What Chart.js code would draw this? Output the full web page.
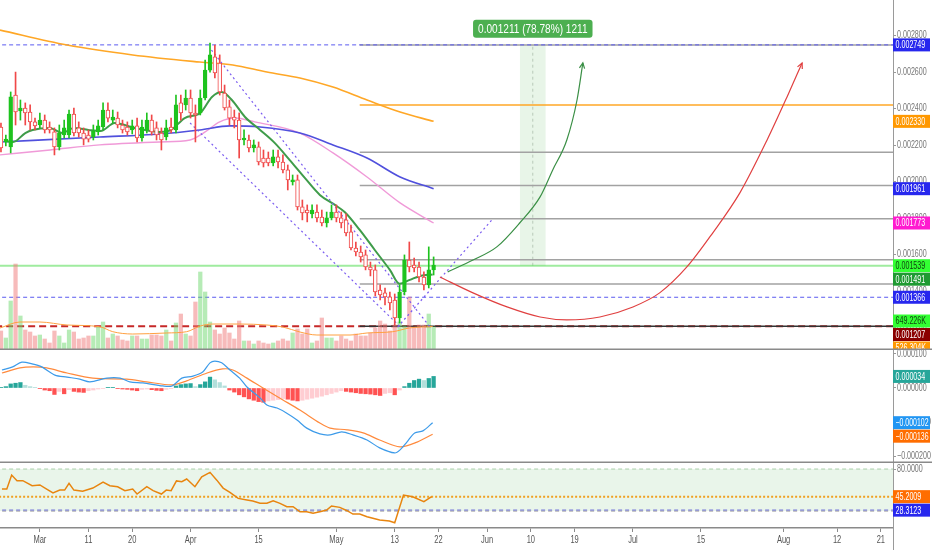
<!DOCTYPE html>
<html><head><meta charset="utf-8">
<script src="https://cdn.jsdelivr.net/npm/chart.js@4.4.0/dist/chart.umd.min.js"></script>
<style>
html,body{margin:0;padding:0;background:#fff;width:932px;height:550px;overflow:hidden}
.p{position:absolute;left:0;width:932px}
#w1{top:0;height:350px}#w2{top:350px;height:113px}#w3{top:463px;height:87px}
canvas{display:block}
</style></head><body>
<div class="p" id="w1"><canvas id="c1" width="932" height="350"></canvas></div>
<div class="p" id="w2"><canvas id="c2" width="932" height="113"></canvas></div>
<div class="p" id="w3"><canvas id="c3" width="932" height="87"></canvas></div>
<script>
// ---------- DATA (prices in millionths, volume in K) ----------
const candleDays = [-8,-7,-6,-5,-4,-3,-2,-1,0,1,2,3,4,5,6,7,8,9,10,11,12,13,14,15,16,17,18,19,20,21,22,23,24,25,26,27,28,29,30,31,32,33,34,35,36,37,38,39,40,41,42,43,44,45,46,47,48,49,50,51,52,53,54,55,56,57,58,59,60,61,62,63,64,65,66,67,68,69,70,71,72,73,74,75,76,77,78,79,80,81];
const openP = [2299,2217,2190,2474,2387,2403,2381,2327,2310,2337,2299,2272,2190,2255,2255,2370,2294,2266,2255,2244,2272,2299,2392,2337,2348,2310,2299,2283,2305,2239,2283,2337,2294,2266,2244,2299,2283,2431,2420,2458,2376,2376,2458,2611,2683,2650,2485,2409,2354,2337,2228,2228,2184,2190,2129,2129,2102,2135,2107,2064,1998,2009,1861,1844,1823,1833,1806,1773,1801,1833,1801,1790,1724,1636,1614,1598,1532,1516,1406,1390,1368,1351,1253,1395,1570,1543,1532,1477,1434,1516];
const highP = [2321,2255,2491,2600,2447,2431,2420,2348,2376,2365,2327,2294,2310,2337,2392,2403,2327,2294,2283,2310,2337,2431,2431,2392,2381,2337,2327,2337,2348,2337,2376,2365,2327,2294,2337,2348,2474,2474,2502,2502,2420,2502,2666,2759,2748,2694,2529,2447,2392,2376,2283,2255,2228,2217,2173,2162,2173,2173,2146,2091,2036,2036,1899,1872,1872,1872,1844,1833,1872,1872,1833,1823,1762,1669,1647,1625,1559,1543,1434,1417,1395,1384,1434,1598,1669,1581,1559,1505,1642,1587];
const lowP = [2162,2195,2157,2310,2337,2310,2283,2283,2294,2266,2266,2146,2173,2239,2239,2250,2244,2201,2217,2228,2255,2283,2327,2321,2294,2266,2255,2261,2217,2222,2266,2255,2228,2173,2228,2266,2266,2337,2392,2348,2217,2365,2447,2600,2568,2474,2392,2310,2294,2129,2201,2162,2162,2091,2080,2086,2086,2075,2047,1954,1981,1844,1790,1779,1801,1779,1757,1751,1790,1779,1746,1702,1625,1592,1559,1516,1483,1373,1351,1324,1297,1214,1225,1379,1505,1505,1450,1406,1417,1488];
const closeP = [2184,2233,2464,2381,2403,2376,2327,2305,2337,2283,2283,2190,2266,2294,2370,2266,2266,2233,2233,2277,2305,2392,2348,2354,2310,2283,2272,2305,2239,2299,2337,2272,2255,2228,2294,2283,2420,2376,2458,2376,2365,2458,2611,2694,2595,2491,2403,2348,2337,2228,2239,2184,2201,2107,2102,2102,2135,2107,2064,2009,2009,1861,1828,1828,1844,1801,1773,1801,1833,1801,1773,1718,1636,1614,1587,1532,1516,1395,1379,1368,1335,1253,1395,1570,1532,1527,1477,1434,1516,1543];
const volumeK = [426,269,1098,1926,762,448,403,314,336,246,157,426,314,157,448,403,246,269,314,314,515,627,269,358,314,224,202,314,314,246,246,336,336,314,448,202,605,806,358,314,1075,1747,1299,627,448,358,493,381,246,650,202,202,134,202,157,134,157,202,246,202,381,470,358,470,157,202,717,269,269,202,314,246,202,358,314,314,381,493,650,582,426,560,627,538,1187,515,560,560,806,515];
const volMaDays = [-8.2,-4.1,0,5.6,12.3,15,19.1,26,30.2,33,35.6,41.1,46.7,50,53.5,57,63.8,67.3,72.6,76,80.8];
const volMaVals = [493,627,627,560,522,410,358,381,410,538,582,582,560,515,403,336,336,381,410,493,526];

const emaDays = [-7,-5.5,-3,-1.5,2,4.6,7,10,12.5,15.4,19.5,24.7,27,29.8,33,35.4,37.4,39.5,42.2,45.3,48.3,51.4,54.5,57.6,60.7,62.7,65.8,68.9,72,74,76.1,78.2,80.8];
const emaVals = [2222,2217,2266,2283,2294,2266,2294,2283,2277,2321,2294,2272,2283,2348,2376,2464,2491,2447,2354,2283,2212,2118,2020,1927,1872,1833,1735,1625,1516,1440,1461,1483,1491];
const pinkDays = [-8.2,2.1,12.3,24.7,30.9,34,37,40.1,44.2,53.5,60.3,67.3,74.1,81];
const pinkVals = [2146,2173,2201,2217,2228,2272,2327,2348,2327,2266,2157,2025,1883,1773];
const blueDays = [-8.2,12.3,24.7,32.9,39.1,45.3,53.5,60.3,67.3,74.1,81];
const blueVals = [2217,2244,2261,2283,2305,2299,2266,2201,2129,2025,1961];
const orangeDays = [-8.2,5.6,19.1,32.9,39.7,46.7,53.5,60.3,67.3,74.1,81];
const orangeVals = [2830,2748,2694,2655,2639,2600,2568,2518,2447,2381,2330];

const fibLevels = [2749,2160,1978,1796,1571,1439];
const fibOrangeLevel = 2419;
const supportLevel = 1207;
const fibStartDay = 65.8;
const highLevel = 2749, priceLevel = 1539, midLevel = 1366;

const chanADays = [35.3,80.2], chanAVals = [2721,1205];
const chanBDays = [30.9,74.1], chanBVals = [2321,1205];
const chanCDays = [73.6,93], chanCVals = [1203,1790];
const greenArrowDays = [83.9,89.1,94,98.7,102.9,105.5,108.4,110.5,111.7];
const greenArrowVals = [1505,1570,1642,1773,1916,2064,2228,2447,2650];
const redArrowDays = [82.3,89.1,96.1,102.9,108.4,115.2,122,127.5,133.1,138.4,144,149.6,153.7,156.8];
const redArrowVals = [1477,1390,1313,1258,1242,1258,1313,1390,1532,1718,1938,2228,2464,2650];
const bandDay = 101.4, bandLow = 1539, bandHigh = 2750;
const measureText = '0.001211 (78.78%) 1211';

const macdHist = [2,4,12,14,16,8,4,1,-2,-6,-8,-19,-10,-17,-5,-10,-12,-13,-8,-6,-3,-1,1,2,-1,-3,-4,-6,-8,-4,-3,-5,-7,-8,-4,-2,6,10,12,13,4,10,18,32,24,16,6,-6,-12,-20,-26,-32,-36,-40,-42,-38,-36,-34,-31,-33,-36,-38,-36,-33,-30,-27,-24,-20,-16,-12,-8,-10,-12,-14,-16,-17,-18,-20,-22,-16,-14,-20,-6,4,14,22,26,22,28,34];
const macdDays = [-7.8,-5.6,-3.7,-1.6,0.4,3.1,5.6,8.2,10.3,13.8,16.5,18.5,21.2,25.3,27.2,29.2,31.5,33.5,35,36,37.4,39.1,41.1,42.6,45.3,46.7,48.8,50.8,52.9,54.9,57.6,59.7,62.1,64.4,67.3,69.9,73,74.1,75.5,77.1,78.8,80.8];
const macdVals = [53,62,76,71,62,38,32,26,18,29,29,18,15,6,6,29,35,47,74,79,74,53,29,3,-29,-50,-59,-74,-94,-118,-135,-138,-129,-138,-153,-176,-191,-182,-159,-132,-126,-102];
const signalDays = [-7.8,-4.1,-1.4,1.4,5.6,10.9,17.9,22,27.2,30.2,34.4,37.6,39.7,42.6,45.9,50,53.5,57.6,59.7,63.2,66.5,69.9,74.1,77.6,80.8];
const signalVals = [44,59,62,59,44,29,26,18,9,21,44,56,53,29,0,-35,-65,-103,-118,-123,-132,-153,-173,-159,-136];

const rsiDays = [-7.8,-6.8,-5.8,-4.7,-3.5,-1.6,0,1.4,2.7,4.1,5.1,6,7,8.8,10.9,13,14.4,16,17.5,19.1,20,22,23.3,25,26,27,28.1,29.2,30.2,31.9,33.3,35,36.4,37.7,39.1,40.8,42.6,43.8,45.3,46.7,48,49.4,50.8,52.1,53.5,54.9,56.2,57.6,59,60,61.7,63.2,64.4,65.8,67.3,68.5,69.9,71.9,73,74.8,76.7,79,80.6];
const rsiVals = [54.8,54.8,72.4,65.3,65.3,59,60,54.8,49.8,53.5,53.5,62,53.5,52,56,63.6,59,57.7,52.7,54.8,48.5,57.7,52.7,48.5,53.5,52.7,65,64,67.4,57.7,70.3,75.8,66,56,50.6,43,41,39.7,36.8,36.8,40,36.8,32.5,32.5,26.2,26.2,24.2,26.2,28.3,33.4,31.7,27.5,23.3,23.3,19.9,17.9,15.7,14.4,12.3,47.2,45.1,38.8,45.2];
const rsiBandTop = 80, rsiBandBottom = 27, rsiLevelA = 45.2009, rsiLevelB = 28.3123;

const tickDays = [0,10,19,31,45,61,73,82,92,101,110,122,136,153,164,173];
const tickLabels = ['Mar','11','20','Apr','15','May','13','22','Jun','10','19','Jul','15','Aug','12','21'];
const priceTicks = [1200,1400,1600,1800,2000,2200,2400,2600,2800];
const macdTicks = [100,0,-100,-200];
const rsiTicks = [80];

const mainTags = [['y',2749,'0.002749','#2727ee','#fff'],['y',2330,'0.002330','#ff9800','#fff'],['y',1961,'0.001961','#2727ee','#fff'],['y',1773,'0.001773','#ff1ad0','#fff'],['y',1539,'0.001539','#33ff33','#114411'],['y',1491,'0.001491','#1f9a32','#fff'],['y',1366,'0.001366','#2727ee','#fff'],['yv',649.226,'649.226K','#33ff33','#114411'],['y',1207,'0.001207','#8b0000','#fff'],['yv',526.304,'526.304K','#ff9800','#fff']];
const macdTags = [['y',34,'0.000034','#26a69a','#fff'],['y',-102,'\u22120.000102','#2196f3','#fff'],['y',-136,'\u22120.000136','#ff6d00','#fff']];
const rsiTags = [['y',45.2009,'45.2009','#ff6d00','#fff'],['y',28.3123,'28.3123','#2727ee','#fff']];

// ---------- STYLE / HELPERS ----------
const FONT = "'Liberation Sans','DejaVu Sans',sans-serif";
Chart.defaults.font.family = FONT;
Chart.defaults.animation = false;
const X_MIN = -8.2, X_MAX = 175.5, AXW = 39, SX = 0.68;
const C_UP = '#1ec31e', C_DN = '#f04848';
const pts = (d, v) => d.map((x, i) => ({x, y: v[i]}));

function narrowText(ctx, text, x, y, sx, align) {
  ctx.save(); ctx.translate(x, y); ctx.scale(sx, 1); ctx.textAlign = align || 'left'; ctx.fillText(text, 0, 0); ctx.restore();
}
function lineDs(data, color, width, order, extra) {
  return Object.assign({type:'line', data, borderColor:color, borderWidth:width, pointRadius:0, fill:false, order, yAxisID:'y', cubicInterpolationMode:'monotone'}, extra || {});
}
function hline(level, x0, color, width, dash, order) {
  return lineDs([{x:x0,y:level},{x:X_MAX+1,y:level}], color, width, order, {borderDash:dash||[]});
}
function xAxis(show) {
  return {type:'linear', min:X_MIN, max:X_MAX, offset:false, display:show,
    grid:{display:true, offset:false, drawOnChartArea:false, drawTicks:true, tickLength:4, color:'#8a8a8a'},
    border:{display:true, color:'#8a8a8a', width:1.5},
    ticks:{display:false},
    afterBuildTicks:(s)=>{s.ticks = tickDays.map(v=>({value:v}));},
    afterFit:(s)=>{if(show){s.height=22;} s.paddingLeft=0; s.paddingRight=0;}};
}
function yAxis(min, max, ticks) {
  return {type:'linear', position:'right', min, max, display:true,
    grid:{display:true, drawOnChartArea:false, drawTicks:true, tickLength:3, color:'#9a9a9a'},
    border:{display:true, color:'#9a9a9a', width:1},
    ticks:{display:false},
    afterBuildTicks:(s)=>{s.ticks = ticks.map(v=>({value:v}));},
    afterFit:(s)=>{s.width=AXW; s.paddingTop=0; s.paddingBottom=0;}};
}
function drawYLabels(chart, ticks, fmt) {
  const ctx = chart.ctx, s = chart.scales.y, x = chart.chartArea.right + 4;
  ctx.save(); ctx.font = '10.5px ' + FONT; ctx.fillStyle = '#777'; ctx.textBaseline = 'middle';
  ticks.forEach(v => {
    const y = s.getPixelForValue(v); const t = fmt(v);
    const sx = Math.min(SX, 34 / ctx.measureText(t).width);
    if (y > -6 && y < chart.height + 6) narrowText(ctx, t, x, y, sx);
  });
  ctx.restore();
}
function drawXLabels(chart) {
  const ctx = chart.ctx, s = chart.scales.x, y = chart.chartArea.bottom + 12;
  ctx.save(); ctx.font = '10px ' + FONT; ctx.fillStyle = '#555'; ctx.textBaseline = 'middle';
  tickDays.forEach((d, i) => narrowText(ctx, tickLabels[i], s.getPixelForValue(d), y, 0.75, 'center'));
  ctx.restore();
}
function drawTags(chart, tags) {
  const ctx = chart.ctx, left = chart.chartArea.right;
  const items = tags.map(t => ({y: chart.scales[t[0]].getPixelForValue(t[1]), t}));
  items.sort((a,b)=>a.y-b.y);
  let prev = -100;
  ctx.save();
  ctx.font = '10.5px ' + FONT; ctx.textBaseline = 'middle';
  items.forEach(it => {
    let y = Math.max(it.y, prev + 13.5); prev = y;
    ctx.fillStyle = it.t[3]; ctx.fillRect(left, y - 6.5, 37, 13);
    const sx = Math.min(SX, 33 / ctx.measureText(it.t[2]).width);
    ctx.fillStyle = it.t[4]; narrowText(ctx, it.t[2], left + 2.5, y + 0.5, sx);
  });
  ctx.restore();
}
function sepPlugin(yFn) {
  return {id:'sep', afterDraw(chart){ const c=chart.ctx; c.save(); c.fillStyle='#8a8a8a'; c.fillRect(0, yFn(chart), 932, 1.5); c.restore(); }};
}
const baseOpts = {responsive:false, maintainAspectRatio:false, animation:false, events:[],
  layout:{padding:0}, plugins:{legend:{display:false}, tooltip:{enabled:false}}};

// ---------- MAIN CHART ----------
const up = candleDays.map((d,i)=>closeP[i]>=openP[i]);
const mainDatasets = [
  {type:'bar', yAxisID:'y', grouped:false, order:60, barThickness:25, backgroundColor:'rgba(76,175,80,0.13)', data:[{x:bandDay, y:[bandLow, bandHigh]}]},
  lineDs([{x:bandDay,y:bandLow},{x:bandDay,y:bandHigh}], '#b9c9b9', 1, 59, {borderDash:[3,3], cubicInterpolationMode:'default'}),
  ...fibLevels.map(l => hline(l, fibStartDay, '#a2a2a2', 1.5, [], 50)),
  hline(fibOrangeLevel, fibStartDay, '#ffa726', 1.5, [], 50),
  hline(highLevel, X_MIN-1, '#5a5af0', 1, [4,3], 45),
  hline(priceLevel, X_MIN-1, 'rgba(80,220,80,0.55)', 2, [], 45),
  hline(midLevel, X_MIN-1, '#5a5af0', 1, [4,3], 45),
  hline(supportLevel, X_MIN-1, '#c62828', 2, [7,4], 46),
  hline(supportLevel, fibStartDay, '#333', 1.5, [], 44),
  {type:'bar', yAxisID:'yv', grouped:false, order:40, barThickness:3.6,
   backgroundColor: up.map(u=>u?'rgba(110,215,110,0.5)':'rgba(240,120,120,0.5)'),
   data: candleDays.map((d,i)=>({x:d, y:volumeK[i]}))},
  lineDs(pts(volMaDays, volMaVals), '#ffa040', 1, 39, {yAxisID:'yv'}),
  lineDs(pts(orangeDays, orangeVals), '#ffa726', 1.6, 30),
  lineDs(pts(blueDays, blueVals), '#5050dd', 1.6, 30),
  lineDs(pts(pinkDays, pinkVals), '#f09ad8', 1.4, 30),
  lineDs(pts(emaDays, emaVals), '#3f9c4a', 2, 25),
  lineDs(pts(chanADays, chanAVals), '#7b5cf0', 1.2, 20, {borderDash:[2,3]}),
  lineDs(pts(chanBDays, chanBVals), '#7b5cf0', 1.2, 20, {borderDash:[2,3]}),
  lineDs(pts(chanCDays, chanCVals), '#7b5cf0', 1.2, 20, {borderDash:[2,3]}),
  {type:'bar', yAxisID:'y', grouped:false, order:11, barThickness:1,
   backgroundColor: up.map(u=>u?C_UP:C_DN),
   data: candleDays.map((d,i)=>({x:d, y:[lowP[i], highP[i]]}))},
  {type:'bar', yAxisID:'y', grouped:false, order:10, barThickness:3.8, borderWidth:1, borderSkipped:false, minBarLength:1,
   backgroundColor: up.map(u=>u?C_UP:'#ffffff'), borderColor: up.map(u=>u?C_UP:C_DN),
   data: candleDays.map((d,i)=>({x:d, y:[openP[i], closeP[i]]}))},
  lineDs(pts(greenArrowDays, greenArrowVals), '#3a8f45', 1.2, 5, {arrowHead:true}),
  lineDs(pts(redArrowDays, redArrowVals), '#e04040', 1.2, 5, {arrowHead:true})
];
const mainPlugin = {id:'mainDeco', afterDatasetsDraw(chart){
  const ctx = chart.ctx;
  chart.data.datasets.forEach((ds, i) => {
    if (!ds.arrowHead) return;
    const p = chart.getDatasetMeta(i).data; const a = p[p.length-2], b = p[p.length-1];
    const ang = Math.atan2(b.y-a.y, b.x-a.x), L = 6;
    ctx.save(); ctx.strokeStyle = ds.borderColor; ctx.lineWidth = 1.2; ctx.beginPath();
    ctx.moveTo(b.x - L*Math.cos(ang-0.45), b.y - L*Math.sin(ang-0.45)); ctx.lineTo(b.x, b.y);
    ctx.lineTo(b.x - L*Math.cos(ang+0.45), b.y - L*Math.sin(ang+0.45)); ctx.stroke(); ctx.restore();
  });
  const cx = chart.scales.x.getPixelForValue(bandDay), cy = chart.scales.y.getPixelForValue(bandHigh) - 16;
  ctx.save(); ctx.font = '12px ' + FONT;
  const sx = 0.84, w = ctx.measureText(measureText).width * sx + 10, h = 18;
  ctx.fillStyle = '#4caf50'; ctx.beginPath();
  if (ctx.roundRect) ctx.roundRect(cx - w/2, cy - h/2, w, h, 3); else ctx.rect(cx - w/2, cy - h/2, w, h);
  ctx.fill(); ctx.fillStyle = '#fff'; ctx.textBaseline = 'middle';
  narrowText(ctx, measureText, cx, cy + 0.5, sx, 'center'); ctx.restore();
}, afterDraw(chart){ drawYLabels(chart, priceTicks, v => (v/1e6).toFixed(6)); drawTags(chart, mainTags); }};
new Chart(document.getElementById('c1'), {type:'bar', data:{datasets:mainDatasets},
  options:Object.assign({}, baseOpts, {scales:{
    x: xAxis(false),
    y: yAxis(1077, 2995, priceTicks),
    yv: {type:'linear', display:false, min:0, max:7840}
  }}), plugins:[mainPlugin, sepPlugin(c=>348.5)]});

// ---------- MACD ----------
const macdFmt = v => (v<0?'\u2212':'') + Math.abs(v/1e6).toFixed(6);
const histColors = macdHist.map((h,i)=>{const p = i ? macdHist[i-1] : 0; return h>=0 ? (h>=p?'#26a69a':'#b2dfdb') : (h<=p?'#ff5252':'#ffcdd2');});
new Chart(document.getElementById('c2'), {type:'bar', data:{datasets:[
  {type:'bar', yAxisID:'y', grouped:false, order:20, barThickness:3.6, backgroundColor:histColors, data:candleDays.map((d,i)=>({x:d, y:macdHist[i]}))},
  lineDs(pts(signalDays, signalVals), '#ff8a3d', 1.2, 10, {tension:0.3, cubicInterpolationMode:'default'}),
  lineDs(pts(macdDays, macdVals), '#3d9be9', 1.2, 9, {tension:0.3, cubicInterpolationMode:'default'})
]}, options:Object.assign({}, baseOpts, {scales:{
  x: xAxis(false),
  y: yAxis(-220.5, 111.7, macdTicks)
}}), plugins:[{id:'mt', afterDraw(c){drawYLabels(c, macdTicks, macdFmt); drawTags(c, macdTags);}}, sepPlugin(c=>111.5)]});

// ---------- RSI ----------
new Chart(document.getElementById('c3'), {type:'line', data:{datasets:[
  hline(rsiBandTop, X_MIN-1, '#a9cfa9', 1, [4,3], 30),
  lineDs([{x:X_MIN-1,y:rsiBandTop},{x:X_MAX+1,y:rsiBandTop}], 'rgba(0,0,0,0)', 0, 31, {fill:{value:rsiBandBottom}, backgroundColor:'rgba(76,175,80,0.12)'}),
  hline(rsiBandBottom, X_MIN-1, '#a0a0a0', 1, [4,3], 30),
  hline(rsiLevelB, X_MIN-1, '#6a6ad8', 1, [4,3], 25),
  hline(rsiLevelA, X_MIN-1, '#f0a020', 2, [2,2], 25),
  lineDs(pts(rsiDays, rsiVals), '#e8850f', 1.5, 10, {cubicInterpolationMode:'default', tension:0})
]}, options:Object.assign({}, baseOpts, {scales:{
  x: xAxis(true),
  y: yAxis(5.7, 87.6, rsiTicks)
}}), plugins:[{id:'rt', afterDraw(c){
  drawYLabels(c, rsiTicks, v => v.toFixed(4));
  drawTags(c, rsiTags);
  drawXLabels(c);
  const ctx = c.ctx; ctx.save(); ctx.fillStyle = '#9a9a9a';
  ctx.fillRect(c.chartArea.right, c.chartArea.bottom, 1, 40); ctx.restore();
}}]});
</script>
</body></html>
